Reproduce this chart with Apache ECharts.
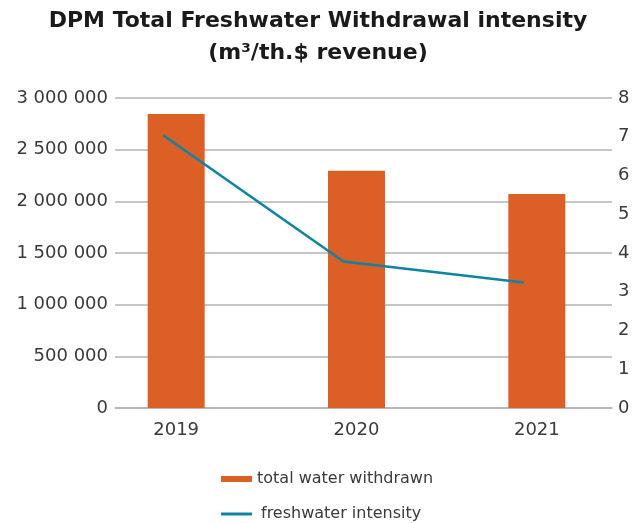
<!DOCTYPE html>
<html>
<head>
<meta charset="utf-8">
<script src="https://cdn.jsdelivr.net/npm/echarts@6/dist/echarts.min.js"></script>
</head>
<body style="margin:0;background:#fff">
<div id="chart" style="width:636px;height:523px;"></div>
<script>
// data
var years = ['2019', '2020', '2021']
var withdrawn = [2845000, 2295000, 2070000]
var intensity = [7.04, 3.78, 3.24]
var leftTicks = { min: 0, max: 3000000, interval: 500000 }
var rightTicks = { min: 0, max: 8, interval: 1 }

var font = '"DejaVu Sans", sans-serif'
var labelColor = '#3a3a3a'

function spaced (v) {
  return String(v).replace(/\B(?=(\d{3})+(?!\d))/g, ' ')
}

var myChart = echarts.init(document.getElementById('chart'))
myChart.setOption({
  animation: false,
  title: {
    text: 'DPM Total Freshwater Withdrawal intensity\n(m³/th.$ revenue)',
    left: 'center',
    top: 0,
    textStyle: {
      fontFamily: font,
      fontWeight: 'bold',
      fontSize: 22,
      lineHeight: 32,
      color: '#1a1a1a'
    }
  },
  legend: {
    orient: 'vertical',
    left: 216,
    top: 466,
    height: 80,
    itemWidth: 31,
    itemHeight: 6,
    itemGap: 19,
    textStyle: { fontFamily: font, fontSize: 16, color: labelColor },
    data: [
      { name: 'total water withdrawn', icon: 'rect' },
      {
        name: 'freshwater intensity',
        icon: 'path://M0,0h31v3h-31z',
        textStyle: { padding: [0, 0, 0, 4] }
      }
    ]
  },
  // grid 0: frame with gridlines, grid 1: bars, grid 2: line
  grid: [
    { left: 115, right: 24, top: 98, bottom: 115 },
    { left: 86, right: 9, top: 98, bottom: 115 },
    { left: 73, right: 22, top: 98, bottom: 115 }
  ],
  xAxis: [
    {
      gridIndex: 0,
      type: 'category',
      data: years,
      axisLine: { lineStyle: { color: '#b3b3b3', width: 1.5 } },
      axisTick: { show: false },
      axisLabel: { show: false }
    },
    {
      gridIndex: 1,
      type: 'category',
      data: years,
      axisLine: { show: false },
      axisTick: { show: false },
      axisLabel: { margin: 13, fontFamily: font, fontSize: 18, color: labelColor }
    },
    {
      gridIndex: 2,
      type: 'category',
      data: years,
      show: false
    }
  ],
  yAxis: [
    {
      gridIndex: 0,
      type: 'value',
      min: leftTicks.min,
      max: leftTicks.max,
      interval: leftTicks.interval,
      axisLine: { show: false },
      axisTick: { show: false },
      splitLine: { lineStyle: { color: '#b3b3b3', width: 1.5 } },
      axisLabel: {
        margin: 7,
        fontFamily: font,
        fontSize: 18,
        color: labelColor,
        formatter: spaced
      }
    },
    {
      gridIndex: 0,
      type: 'value',
      position: 'right',
      min: rightTicks.min,
      max: rightTicks.max,
      interval: rightTicks.interval,
      axisLine: { show: false },
      axisTick: { show: false },
      splitLine: { show: false },
      axisLabel: { margin: 6, fontFamily: font, fontSize: 18, color: labelColor }
    },
    {
      gridIndex: 1,
      type: 'value',
      min: leftTicks.min,
      max: leftTicks.max,
      show: false
    },
    {
      gridIndex: 2,
      type: 'value',
      min: rightTicks.min,
      max: rightTicks.max,
      show: false
    }
  ],
  series: [
    {
      name: 'total water withdrawn',
      type: 'bar',
      xAxisIndex: 1,
      yAxisIndex: 2,
      barWidth: 57,
      itemStyle: { color: '#dc5f26' },
      data: withdrawn
    },
    {
      name: 'freshwater intensity',
      type: 'line',
      xAxisIndex: 2,
      yAxisIndex: 3,
      symbol: 'none',
      lineStyle: { color: '#0e84a3', width: 2.6 },
      itemStyle: { color: '#0e84a3' },
      data: intensity
    }
  ]
})
</script>
</body>
</html>
